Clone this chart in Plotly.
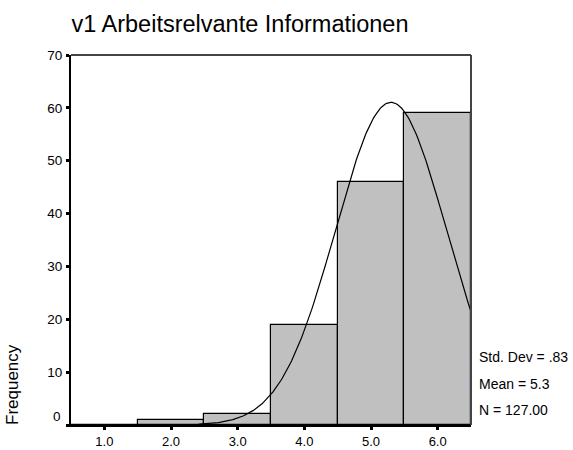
import numpy as np
import plotly.graph_objects as go

# Data
bin_centers = [1.0, 2.0, 3.0, 4.0, 5.0, 6.0]
frequencies = [0, 1, 2, 19, 46, 59]
x_tick_labels = ["1.0", "2.0", "3.0", "4.0", "5.0", "6.0"]
y_ticks = [0, 10, 20, 30, 40, 50, 60, 70]
std_dev = 0.83
mean = 5.3
n_total = 127.0
bin_width = 1.0

title_text = "v1 Arbeitsrelvante Informationen"
stats_lines = ["Std. Dev = .83", "Mean = 5.3", "N = 127.00"]

# Normal curve fitted with the displayed statistics
xc = np.linspace(0.5, 6.5, 300)
yc = n_total * bin_width / (std_dev * np.sqrt(2 * np.pi)) * np.exp(-0.5 * ((xc - mean) / std_dev) ** 2)

font_family = "Liberation Sans, Arial, sans-serif"

L, R, T, B = 71, 102, 55, 25
W, H = 573, 450
PW, PH = W - L - R, H - T - B

fig = go.Figure()
fig.add_trace(go.Bar(
    x=bin_centers, y=frequencies, width=bin_width,
    marker=dict(color="#c0c0c0", line=dict(color="black", width=1.2)),
    showlegend=False, hoverinfo="x+y",
))
fig.add_trace(go.Scatter(
    x=xc, y=yc, mode="lines", line=dict(color="black", width=1.2),
    showlegend=False, hoverinfo="skip",
))

fig.update_layout(
    template="none",
    width=W, height=H,
    margin=dict(l=L, r=R, t=T, b=B, autoexpand=False),
    paper_bgcolor="white", plot_bgcolor="white",
    font=dict(family=font_family, size=13, color="black"),
    bargap=0,
    title=dict(text=title_text, font=dict(size=23.5, color="black", family=font_family),
               x=240 / W, xanchor="center", xref="container",
               y=1 - 24 / H, yanchor="middle", yref="container"),
    xaxis=dict(range=[0.5, 6.5], tickvals=bin_centers, ticktext=x_tick_labels,
               automargin=False,
               showgrid=False, zeroline=False, showline=True, linecolor="black", linewidth=2,
               ticks="outside", ticklen=3, tickwidth=3, tickcolor="black",
               ticklabelstandoff=0,
               tickfont=dict(size=13, color="black")),
    yaxis=dict(range=[0, 70], tickvals=y_ticks,
               ticktext=["" if v == 0 else str(v) for v in y_ticks],
               automargin=False,
               showgrid=False, zeroline=False, showline=True, linecolor="black", linewidth=2,
               ticks="outside", ticklen=3, tickwidth=3, tickcolor="black",
               ticklabelstandoff=1,
               tickfont=dict(size=13.5, color="black")),
)

# top and right frame lines
fig.add_shape(type="line", xref="paper", yref="paper", x0=0, x1=1, y0=1, y1=1,
              line=dict(color="#444444", width=2))
fig.add_shape(type="line", xref="paper", yref="paper", x0=1, x1=1, y0=0, y1=1,
              line=dict(color="#444444", width=2))

# zero label shifted upward, as in the reference
fig.add_annotation(x=(63 - L) / PW, xref="paper", y=(H - B - 416) / PH, yref="paper",
                   text="0", showarrow=False, xanchor="right", yanchor="middle",
                   font=dict(size=13.5, color="black"))

# axis title
fig.add_annotation(x=(12 - L) / PW, xref="paper", y=(H - B - 385) / PH, yref="paper",
                   text="Frequency", textangle=-90, showarrow=False,
                   xanchor="center", yanchor="middle",
                   font=dict(size=17, color="black"))

# statistics text
stat_y = [357, 384, 410]
for txt, py in zip(stats_lines, stat_y):
    fig.add_annotation(x=(477 - L) / PW, xref="paper", y=(H - B - py) / PH, yref="paper",
                       text=txt, showarrow=False, xanchor="left", yanchor="middle",
                       font=dict(size=14, color="black"))

fig.write_html(
    "out.html",
    config={"displayModeBar": False},
    post_script=(
        "document.body.style.margin='0';document.body.style.padding='0';"
        "document.documentElement.style.overflow='hidden';"
    ),
)
